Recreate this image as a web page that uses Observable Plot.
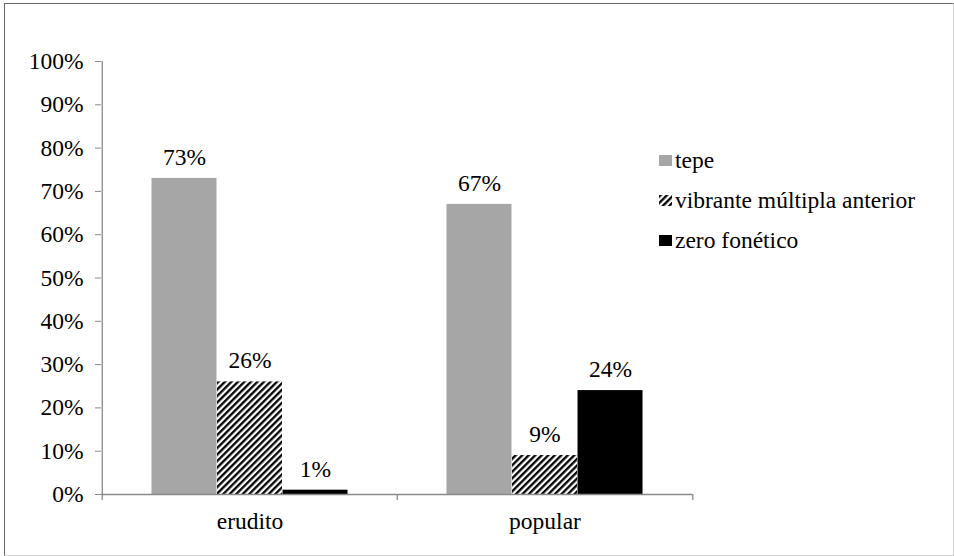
<!DOCTYPE html>
<html>
<head>
<meta charset="utf-8">
<script src="https://cdn.jsdelivr.net/npm/d3@7"></script>
<script src="https://cdn.jsdelivr.net/npm/@observablehq/plot@0.6"></script>
<style>
  html, body { margin: 0; padding: 0; background: #fff; }
  #wrap { position: relative; width: 954px; height: 556px; overflow: hidden; font-family: 'Liberation Serif', serif; }
  #frame { position: absolute; left: 4px; top: 3px; width: 948px; height: 551px; border-left: 1px solid #6a6a6a; border-top: 1px solid #6a6a6a; border-right: 1px solid #cfcfcf; border-bottom: 1px solid #cfcfcf; pointer-events: none; }
  #legend { position: absolute; left: 659px; top: 140px; font-size: 23.5px; color: #000; font-family: 'Liberation Serif', serif; }
  #legend .row { display: flex; align-items: center; height: 40px; }
  #legend svg { margin-right: 3px; }
  #chart { position: absolute; left: 0; top: 0; }
  #chart svg text { font-family: 'Liberation Serif', serif; }
</style>
</head>
<body>
<svg width="0" height="0" style="position:absolute">
  <defs>
    <pattern id="hatch" patternUnits="userSpaceOnUse" width="4.6" height="4.6" patternTransform="rotate(45)">
      <rect width="4.6" height="4.6" fill="#fff"></rect>
      <line x1="1.2" y1="0" x2="1.2" y2="4.6" stroke="#000" stroke-width="2.3"></line>
    </pattern>
  </defs>
</svg>
<div id="wrap">
  <div id="chart"></div>
  <div id="legend"></div>
  <div id="frame"></div>
</div>
<script>
const categories = ["erudito", "popular"];
const series = ["tepe", "vibrante múltipla anterior", "zero fonético"];
const tepe = [73, 67];
const vibrante = [26, 9];
const zero = [1, 24];
const yTicks = [0, 10, 20, 30, 40, 50, 60, 70, 80, 90, 100];

const seriesValues = [tepe, vibrante, zero];
const fills = ["#a6a6a6", "url(#hatch)", "#000000"];

const data = [];
series.forEach((s, i) => categories.forEach((c, j) => data.push({series: s, si: i, category: c, value: seriesValues[i][j]})));

const W = 954, H = 556;
const mL = 101, mR = 262, mT = 61, mB = 62;
const band = (W - mL - mR) / categories.length;
const barW = band * 0.2217;
const pad = (band - 3 * barW) / 2;
const FS = 23.5;

const marks = [];
series.forEach((s, i) => {
  const rows = data.filter(d => d.si === i);
  marks.push(Plot.barY(rows, {
    x: "category", y: "value", fill: fills[i],
    insetLeft: pad + i * barW, insetRight: band - pad - (i + 1) * barW
  }));
  marks.push(Plot.text(rows, {
    x: "category", y: "value", text: d => d.value + "%",
    dx: (i - 1) * barW, dy: -21, fill: "#000", fontSize: FS
  }));
});
// axis lines and category boundary ticks
marks.push(Plot.ruleY([0], {stroke: "#8a8a8a", strokeWidth: 1.3}));
marks.push(Plot.ruleX(categories.slice(0, 1), {x: d => d, dx: -band / 2, y1: 0, y2: 100, stroke: "#8a8a8a", strokeWidth: 1.3}));
marks.push(Plot.ruleX(categories, {x: d => d, dx: -band / 2, y1: 0, y2: -1.4, stroke: "#8a8a8a", strokeWidth: 1.3}));
marks.push(Plot.ruleX(categories.slice(-1), {x: d => d, dx: band / 2, y1: 0, y2: -1.4, stroke: "#8a8a8a", strokeWidth: 1.3}));
marks.push(Plot.axisY({ticks: yTicks, tickFormat: d => d + "%", tickSize: 6, tickPadding: 12, stroke: "#8a8a8a", fill: "#000", fontSize: FS}));
marks.push(Plot.axisX({tickSize: 0, tickPadding: 18, fill: "#000", fontSize: FS}));

const chart = Plot.plot({
  width: W, height: H,
  marginLeft: mL, marginRight: mR, marginTop: mT, marginBottom: mB,
  style: {fontFamily: "'Liberation Serif', serif", fontSize: FS + "px", background: "transparent", color: "#000"},
  x: {domain: categories, padding: 0, label: null},
  y: {domain: [0, 100], label: null},
  marks
});
document.getElementById("chart").appendChild(chart);

const legend = document.getElementById("legend");
series.forEach((s, i) => {
  const row = document.createElement("div");
  row.className = "row";
  row.innerHTML = `<svg width="13" height="11"><rect width="13" height="11" fill="${fills[i]}"></rect></svg><span>${s}</span>`;
  legend.appendChild(row);
});
</script>
</body>
</html>
